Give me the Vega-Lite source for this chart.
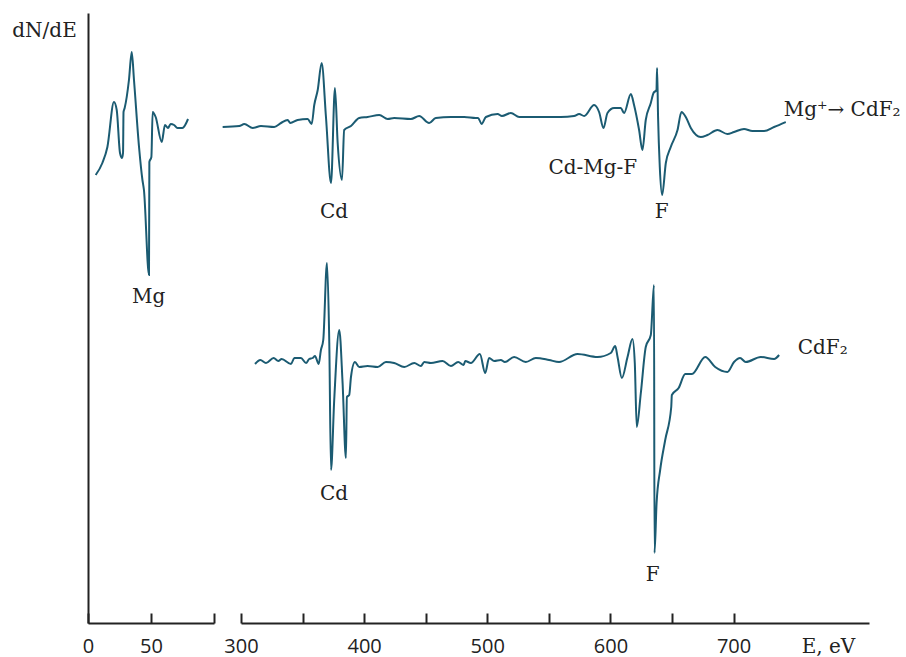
{
  "$schema": "https://vega.github.io/schema/vega-lite/v6.json",
  "autosize": {"type": "pad"},
  "padding": {"left": 11, "top": 13, "right": 0, "bottom": 4},
  "background": "white",
  "config": {
    "view": {"stroke": null},
    "font": "DejaVu Serif",
    "axis": {"grid": false, "domainColor": "#222", "tickColor": "#222", "labelColor": "#222", "titleColor": "#222", "domainWidth": 2, "tickWidth": 2, "labelFlush": false, "labelOverlap": false}
  },
  "bounds": "flush",
  "spacing": 27,
  "resolve": {"scale": {"x": "independent", "y": "independent"}},
  "datasets": {
    "spectra": [
      {"series": "Mg+ -> CdF2", "E": 6.1, "v": 448}, {"series": "Mg+ -> CdF2", "E": 11.4, "v": 460}, {"series": "Mg+ -> CdF2", "E": 15.4, "v": 476},
      {"series": "Mg+ -> CdF2", "E": 20.6, "v": 521}, {"series": "Mg+ -> CdF2", "E": 22.8, "v": 513}, {"series": "Mg+ -> CdF2", "E": 25.4, "v": 470},
      {"series": "Mg+ -> CdF2", "E": 27.0, "v": 465}, {"series": "Mg+ -> CdF2", "E": 27.8, "v": 470}, {"series": "Mg+ -> CdF2", "E": 28.2, "v": 511},
      {"series": "Mg+ -> CdF2", "E": 29.1, "v": 515}, {"series": "Mg+ -> CdF2", "E": 32.5, "v": 543}, {"series": "Mg+ -> CdF2", "E": 34.7, "v": 571},
      {"series": "Mg+ -> CdF2", "E": 36.5, "v": 543}, {"series": "Mg+ -> CdF2", "E": 40.5, "v": 476}, {"series": "Mg+ -> CdF2", "E": 43.2, "v": 443},
      {"series": "Mg+ -> CdF2", "E": 44.4, "v": 433}, {"series": "Mg+ -> CdF2", "E": 48.4, "v": 348}, {"series": "Mg+ -> CdF2", "E": 48.7, "v": 461},
      {"series": "Mg+ -> CdF2", "E": 50.3, "v": 466}, {"series": "Mg+ -> CdF2", "E": 51.3, "v": 511}, {"series": "Mg+ -> CdF2", "E": 53.7, "v": 506},
      {"series": "Mg+ -> CdF2", "E": 58.5, "v": 481}, {"series": "Mg+ -> CdF2", "E": 61.1, "v": 498}, {"series": "Mg+ -> CdF2", "E": 63.5, "v": 495},
      {"series": "Mg+ -> CdF2", "E": 65.6, "v": 499}, {"series": "Mg+ -> CdF2", "E": 68.3, "v": 498}, {"series": "Mg+ -> CdF2", "E": 71.0, "v": 495},
      {"series": "Mg+ -> CdF2", "E": 74.9, "v": 495}, {"series": "Mg+ -> CdF2", "E": 79.4, "v": 504},

      {"series": "Mg+ -> CdF2", "E": 285.1, "v": 496}, {"series": "Mg+ -> CdF2", "E": 298.6, "v": 497}, {"series": "Mg+ -> CdF2", "E": 302.7, "v": 499},
      {"series": "Mg+ -> CdF2", "E": 309.5, "v": 495}, {"series": "Mg+ -> CdF2", "E": 316.2, "v": 497}, {"series": "Mg+ -> CdF2", "E": 327.0, "v": 496},
      {"series": "Mg+ -> CdF2", "E": 332.5, "v": 500}, {"series": "Mg+ -> CdF2", "E": 337.9, "v": 503}, {"series": "Mg+ -> CdF2", "E": 340.0, "v": 500},
      {"series": "Mg+ -> CdF2", "E": 346.0, "v": 503}, {"series": "Mg+ -> CdF2", "E": 354.1, "v": 504}, {"series": "Mg+ -> CdF2", "E": 357.4, "v": 499},
      {"series": "Mg+ -> CdF2", "E": 359.5, "v": 518}, {"series": "Mg+ -> CdF2", "E": 362.3, "v": 533}, {"series": "Mg+ -> CdF2", "E": 365.5, "v": 560},
      {"series": "Mg+ -> CdF2", "E": 369.0, "v": 506}, {"series": "Mg+ -> CdF2", "E": 373.1, "v": 440}, {"series": "Mg+ -> CdF2", "E": 376.3, "v": 535},
      {"series": "Mg+ -> CdF2", "E": 378.5, "v": 480}, {"series": "Mg+ -> CdF2", "E": 382.0, "v": 443}, {"series": "Mg+ -> CdF2", "E": 383.8, "v": 493},
      {"series": "Mg+ -> CdF2", "E": 389.3, "v": 497}, {"series": "Mg+ -> CdF2", "E": 396.0, "v": 505}, {"series": "Mg+ -> CdF2", "E": 402.8, "v": 506},
      {"series": "Mg+ -> CdF2", "E": 412.3, "v": 508}, {"series": "Mg+ -> CdF2", "E": 419.1, "v": 504}, {"series": "Mg+ -> CdF2", "E": 424.4, "v": 505},
      {"series": "Mg+ -> CdF2", "E": 438.0, "v": 504}, {"series": "Mg+ -> CdF2", "E": 444.7, "v": 507}, {"series": "Mg+ -> CdF2", "E": 452.8, "v": 500},
      {"series": "Mg+ -> CdF2", "E": 458.2, "v": 505}, {"series": "Mg+ -> CdF2", "E": 470.5, "v": 506}, {"series": "Mg+ -> CdF2", "E": 481.3, "v": 506},
      {"series": "Mg+ -> CdF2", "E": 490.7, "v": 505}, {"series": "Mg+ -> CdF2", "E": 492.6, "v": 505}, {"series": "Mg+ -> CdF2", "E": 495.4, "v": 499},
      {"series": "Mg+ -> CdF2", "E": 498.9, "v": 506}, {"series": "Mg+ -> CdF2", "E": 508.4, "v": 509}, {"series": "Mg+ -> CdF2", "E": 511.9, "v": 507},
      {"series": "Mg+ -> CdF2", "E": 519.2, "v": 510}, {"series": "Mg+ -> CdF2", "E": 525.9, "v": 506}, {"series": "Mg+ -> CdF2", "E": 538.1, "v": 506},
      {"series": "Mg+ -> CdF2", "E": 559.7, "v": 506}, {"series": "Mg+ -> CdF2", "E": 570.5, "v": 507}, {"series": "Mg+ -> CdF2", "E": 574.6, "v": 509},
      {"series": "Mg+ -> CdF2", "E": 578.7, "v": 507}, {"series": "Mg+ -> CdF2", "E": 586.8, "v": 518}, {"series": "Mg+ -> CdF2", "E": 590.8, "v": 511},
      {"series": "Mg+ -> CdF2", "E": 594.4, "v": 495}, {"series": "Mg+ -> CdF2", "E": 597.6, "v": 510}, {"series": "Mg+ -> CdF2", "E": 603.0, "v": 515},
      {"series": "Mg+ -> CdF2", "E": 608.4, "v": 515}, {"series": "Mg+ -> CdF2", "E": 611.1, "v": 510}, {"series": "Mg+ -> CdF2", "E": 616.6, "v": 529},
      {"series": "Mg+ -> CdF2", "E": 619.2, "v": 518}, {"series": "Mg+ -> CdF2", "E": 623.3, "v": 493}, {"series": "Mg+ -> CdF2", "E": 626.0, "v": 473},
      {"series": "Mg+ -> CdF2", "E": 628.7, "v": 503}, {"series": "Mg+ -> CdF2", "E": 632.8, "v": 520}, {"series": "Mg+ -> CdF2", "E": 635.0, "v": 530},
      {"series": "Mg+ -> CdF2", "E": 637.4, "v": 533}, {"series": "Mg+ -> CdF2", "E": 637.9, "v": 555}, {"series": "Mg+ -> CdF2", "E": 638.7, "v": 506},
      {"series": "Mg+ -> CdF2", "E": 640.1, "v": 456}, {"series": "Mg+ -> CdF2", "E": 642.0, "v": 428}, {"series": "Mg+ -> CdF2", "E": 645.0, "v": 460},
      {"series": "Mg+ -> CdF2", "E": 649.0, "v": 476}, {"series": "Mg+ -> CdF2", "E": 654.5, "v": 493}, {"series": "Mg+ -> CdF2", "E": 657.7, "v": 511},
      {"series": "Mg+ -> CdF2", "E": 661.2, "v": 506}, {"series": "Mg+ -> CdF2", "E": 665.3, "v": 495}, {"series": "Mg+ -> CdF2", "E": 673.4, "v": 486},
      {"series": "Mg+ -> CdF2", "E": 678.8, "v": 488}, {"series": "Mg+ -> CdF2", "E": 686.9, "v": 493}, {"series": "Mg+ -> CdF2", "E": 695.0, "v": 489},
      {"series": "Mg+ -> CdF2", "E": 700.4, "v": 491}, {"series": "Mg+ -> CdF2", "E": 708.5, "v": 494}, {"series": "Mg+ -> CdF2", "E": 715.3, "v": 492},
      {"series": "Mg+ -> CdF2", "E": 724.8, "v": 492}, {"series": "Mg+ -> CdF2", "E": 732.9, "v": 496}, {"series": "Mg+ -> CdF2", "E": 742.4, "v": 501},

      {"series": "CdF2", "E": 311.4, "v": 259}, {"series": "CdF2", "E": 315.7, "v": 263}, {"series": "CdF2", "E": 320.3, "v": 260},
      {"series": "CdF2", "E": 326.5, "v": 265}, {"series": "CdF2", "E": 330.3, "v": 262}, {"series": "CdF2", "E": 333.0, "v": 264},
      {"series": "CdF2", "E": 340.6, "v": 259}, {"series": "CdF2", "E": 343.3, "v": 265}, {"series": "CdF2", "E": 348.7, "v": 265},
      {"series": "CdF2", "E": 352.8, "v": 260}, {"series": "CdF2", "E": 355.4, "v": 264}, {"series": "CdF2", "E": 358.2, "v": 265},
      {"series": "CdF2", "E": 360.1, "v": 267}, {"series": "CdF2", "E": 363.1, "v": 259}, {"series": "CdF2", "E": 364.9, "v": 273},
      {"series": "CdF2", "E": 366.8, "v": 283}, {"series": "CdF2", "E": 369.8, "v": 360}, {"series": "CdF2", "E": 371.7, "v": 280},
      {"series": "CdF2", "E": 373.1, "v": 153}, {"series": "CdF2", "E": 375.7, "v": 223}, {"series": "CdF2", "E": 379.8, "v": 293},
      {"series": "CdF2", "E": 382.5, "v": 240}, {"series": "CdF2", "E": 385.2, "v": 165}, {"series": "CdF2", "E": 386.0, "v": 226},
      {"series": "CdF2", "E": 387.9, "v": 228}, {"series": "CdF2", "E": 389.3, "v": 246}, {"series": "CdF2", "E": 392.5, "v": 261},
      {"series": "CdF2", "E": 396.0, "v": 256}, {"series": "CdF2", "E": 402.8, "v": 257}, {"series": "CdF2", "E": 411.0, "v": 256},
      {"series": "CdF2", "E": 417.7, "v": 261}, {"series": "CdF2", "E": 424.4, "v": 260}, {"series": "CdF2", "E": 432.6, "v": 256},
      {"series": "CdF2", "E": 440.7, "v": 260}, {"series": "CdF2", "E": 446.1, "v": 257}, {"series": "CdF2", "E": 448.8, "v": 261},
      {"series": "CdF2", "E": 454.2, "v": 260}, {"series": "CdF2", "E": 463.7, "v": 262}, {"series": "CdF2", "E": 470.5, "v": 257},
      {"series": "CdF2", "E": 476.4, "v": 261}, {"series": "CdF2", "E": 480.8, "v": 258}, {"series": "CdF2", "E": 482.1, "v": 262},
      {"series": "CdF2", "E": 486.7, "v": 260}, {"series": "CdF2", "E": 494.0, "v": 269}, {"series": "CdF2", "E": 498.3, "v": 250},
      {"series": "CdF2", "E": 501.5, "v": 265}, {"series": "CdF2", "E": 505.6, "v": 262}, {"series": "CdF2", "E": 511.0, "v": 263},
      {"series": "CdF2", "E": 514.3, "v": 261}, {"series": "CdF2", "E": 521.8, "v": 266}, {"series": "CdF2", "E": 531.3, "v": 261},
      {"series": "CdF2", "E": 539.4, "v": 265}, {"series": "CdF2", "E": 550.2, "v": 263}, {"series": "CdF2", "E": 558.3, "v": 261},
      {"series": "CdF2", "E": 573.3, "v": 269}, {"series": "CdF2", "E": 589.5, "v": 266}, {"series": "CdF2", "E": 600.3, "v": 270},
      {"series": "CdF2", "E": 603.9, "v": 277}, {"series": "CdF2", "E": 605.8, "v": 266}, {"series": "CdF2", "E": 609.3, "v": 245},
      {"series": "CdF2", "E": 613.9, "v": 266}, {"series": "CdF2", "E": 617.9, "v": 284}, {"series": "CdF2", "E": 619.8, "v": 260},
      {"series": "CdF2", "E": 621.4, "v": 196}, {"series": "CdF2", "E": 624.7, "v": 230}, {"series": "CdF2", "E": 628.7, "v": 276},
      {"series": "CdF2", "E": 632.8, "v": 288}, {"series": "CdF2", "E": 635.4, "v": 338}, {"series": "CdF2", "E": 635.8, "v": 70},
      {"series": "CdF2", "E": 637.5, "v": 120}, {"series": "CdF2", "E": 640.4, "v": 153}, {"series": "CdF2", "E": 644.5, "v": 183},
      {"series": "CdF2", "E": 649.4, "v": 216}, {"series": "CdF2", "E": 649.9, "v": 228}, {"series": "CdF2", "E": 655.4, "v": 235},
      {"series": "CdF2", "E": 660.8, "v": 249}, {"series": "CdF2", "E": 666.2, "v": 249}, {"series": "CdF2", "E": 677.0, "v": 266},
      {"series": "CdF2", "E": 685.1, "v": 256}, {"series": "CdF2", "E": 695.0, "v": 251}, {"series": "CdF2", "E": 700.4, "v": 261},
      {"series": "CdF2", "E": 705.3, "v": 265}, {"series": "CdF2", "E": 709.9, "v": 261}, {"series": "CdF2", "E": 722.1, "v": 266},
      {"series": "CdF2", "E": 732.9, "v": 264}, {"series": "CdF2", "E": 737.0, "v": 268}
    ],
    "labels": [
      {"text": "Mg", "E": 48.2, "v": 326, "anchor": "center"},
      {"text": "Cd", "E": 375.5, "v": 411, "anchor": "center"},
      {"text": "Cd-Mg-F", "E": 585.7, "v": 455, "anchor": "center"},
      {"text": "F", "E": 641.7, "v": 411, "anchor": "center"},
      {"text": "Mg⁺→ CdF₂", "E": 740.7, "v": 513, "anchor": "left"},
      {"text": "CdF₂", "E": 752.1, "v": 275, "anchor": "left"},
      {"text": "Cd", "E": 375.5, "v": 129, "anchor": "center"},
      {"text": "F", "E": 634.4, "v": 48, "anchor": "center"}
    ]
  },
  "hconcat": [
    {
      "width": 126,
      "height": 610,
      "encoding": {
        "x": {"field": "E", "type": "quantitative", "scale": {"domain": [0, 100], "nice": false, "zero": false},
          "axis": {"values": [0, 50, 100], "labelExpr": "datum.value == 100 ? '' : datum.label", "tickSize": -10, "labelPadding": 23, "labelFont": "Open Sans", "labelFontSize": 20, "title": null}},
        "y": {"field": "v", "type": "quantitative", "scale": {"domain": [0, 610], "nice": false, "zero": false},
          "axis": {"ticks": false, "labels": false, "title": "dN/dE", "titleAngle": 0, "titleX": -44, "titleY": 17, "titleAlign": "center", "titleBaseline": "middle", "titleFontSize": 20, "titleFontWeight": "normal"}}
      },
      "layer": [
        {
          "data": {"name": "spectra"},
          "transform": [{"filter": "datum.E <= 100"}],
          "mark": {"type": "line", "interpolate": "monotone", "color": "#1b5b72", "strokeWidth": 2},
          "encoding": {"detail": {"field": "series"}}
        },
        {
          "data": {"name": "labels"},
          "transform": [{"filter": "datum.E <= 100"}],
          "mark": {"type": "text", "align": "center", "baseline": "middle", "fontSize": 20, "color": "#222"},
          "encoding": {"text": {"field": "text"}}
        }
      ]
    },
    {
      "width": 628,
      "height": 610,
      "encoding": {
        "x": {"field": "E", "type": "quantitative", "scale": {"domain": [300, 810], "nice": false, "zero": false},
          "axis": {"values": [300, 350, 400, 450, 500, 550, 600, 650, 700], "labelExpr": "datum.value % 100 == 0 ? datum.label : ''", "tickSize": -10, "labelPadding": 23, "labelFont": "Open Sans", "labelFontSize": 20,
            "title": "E, eV", "titleX": 587, "titleY": 23, "titleAlign": "center", "titleBaseline": "middle", "titleFontSize": 20, "titleFontWeight": "normal"}},
        "y": {"field": "v", "type": "quantitative", "scale": {"domain": [0, 610], "nice": false, "zero": false}, "axis": null}
      },
      "layer": [
        {
          "data": {"name": "spectra"},
          "transform": [{"filter": "datum.E >= 200"}],
          "mark": {"type": "line", "interpolate": "monotone", "color": "#1b5b72", "strokeWidth": 2},
          "encoding": {"detail": {"field": "series"}}
        },
        {
          "data": {"name": "labels"},
          "transform": [{"filter": "datum.E >= 200 && datum.anchor == 'center'"}],
          "mark": {"type": "text", "align": "center", "baseline": "middle", "fontSize": 20, "color": "#222"},
          "encoding": {"text": {"field": "text"}}
        },
        {
          "data": {"name": "labels"},
          "transform": [{"filter": "datum.E >= 200 && datum.anchor == 'left'"}],
          "mark": {"type": "text", "align": "left", "baseline": "middle", "fontSize": 20, "color": "#222"},
          "encoding": {"text": {"field": "text"}}
        }
      ]
    }
  ]
}
